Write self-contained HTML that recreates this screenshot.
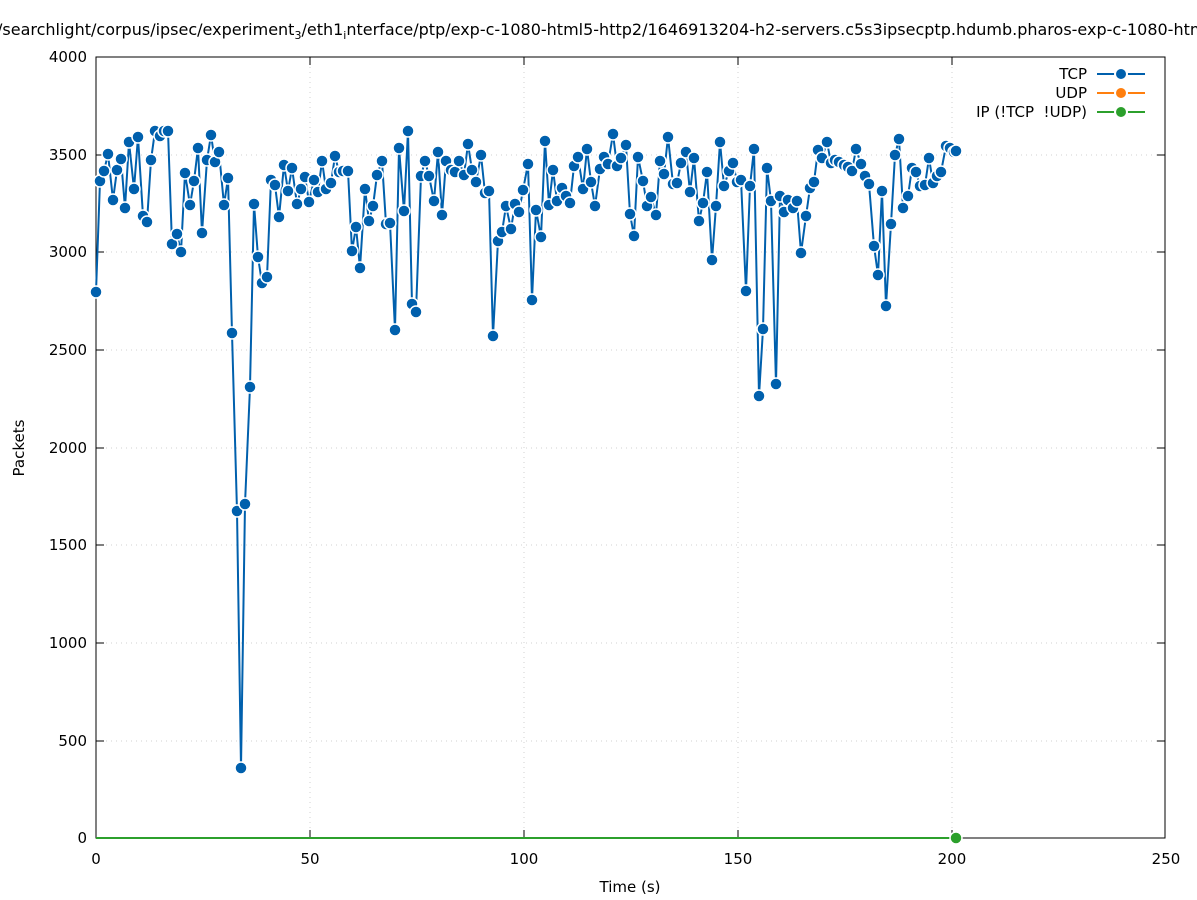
<!DOCTYPE html>
<html><head><meta charset="utf-8"><style>body{margin:0;background:#fff}svg{display:block;font-family:"DejaVu Sans","Liberation Sans",sans-serif}</style></head><body>
<svg width="1197" height="900" viewBox="0 0 1197 900" xmlns="http://www.w3.org/2000/svg">
<rect width="1197" height="900" fill="#fff"/>
<g stroke="#d0d0d0" stroke-dasharray="1,4" stroke-width="1">
<line x1="96" y1="741" x2="1165" y2="741"/><line x1="96" y1="643" x2="1165" y2="643"/><line x1="96" y1="545" x2="1165" y2="545"/><line x1="96" y1="448" x2="1165" y2="448"/><line x1="96" y1="350" x2="1165" y2="350"/><line x1="96" y1="252" x2="1165" y2="252"/><line x1="96" y1="155" x2="1165" y2="155"/>
<line x1="310" y1="57" x2="310" y2="838"/><line x1="524" y1="57" x2="524" y2="838"/><line x1="738" y1="57" x2="738" y2="838"/><line x1="952" y1="57" x2="952" y2="838"/>
</g>
<rect x="96" y="57" width="1069" height="781" fill="none" stroke="#000" stroke-width="1"/>
<g stroke="#000">
<line x1="96" y1="741" x2="104" y2="741"/><line x1="96" y1="643" x2="104" y2="643"/><line x1="96" y1="545" x2="104" y2="545"/><line x1="96" y1="448" x2="104" y2="448"/><line x1="96" y1="350" x2="104" y2="350"/><line x1="96" y1="252" x2="104" y2="252"/><line x1="96" y1="155" x2="104" y2="155"/>
<line x1="1157" y1="741" x2="1165" y2="741"/><line x1="1157" y1="643" x2="1165" y2="643"/><line x1="1157" y1="545" x2="1165" y2="545"/><line x1="1157" y1="448" x2="1165" y2="448"/><line x1="1157" y1="350" x2="1165" y2="350"/><line x1="1157" y1="252" x2="1165" y2="252"/><line x1="1157" y1="155" x2="1165" y2="155"/>
<line x1="310" y1="838" x2="310" y2="830"/><line x1="524" y1="838" x2="524" y2="830"/><line x1="738" y1="838" x2="738" y2="830"/><line x1="952" y1="838" x2="952" y2="830"/>
<line x1="310" y1="57" x2="310" y2="65"/><line x1="524" y1="57" x2="524" y2="65"/><line x1="738" y1="57" x2="738" y2="65"/><line x1="952" y1="57" x2="952" y2="65"/>
</g>
<g font-size="15" fill="#000" text-anchor="end">
<text x="87" y="843">0</text><text x="87" y="746">500</text><text x="87" y="648">1000</text><text x="87" y="550">1500</text><text x="87" y="453">2000</text><text x="87" y="355">2500</text><text x="87" y="257">3000</text><text x="87" y="160">3500</text><text x="87" y="62">4000</text>
</g>
<g font-size="15" fill="#000" text-anchor="middle">
<text x="96" y="864">0</text><text x="310" y="864">50</text><text x="524" y="864">100</text><text x="738" y="864">150</text><text x="952" y="864">200</text><text x="1166" y="864">250</text>
<text x="630" y="892">Time (s)</text>
<text transform="translate(24,448) rotate(-90)">Packets</text>
</g>
<text x="-3" y="35" font-size="16" fill="#000">/searchlight/corpus/ipsec/experiment<tspan font-size="11" dy="4">3</tspan><tspan dy="-4">/eth1</tspan><tspan font-size="11" dy="4">i</tspan><tspan dy="-4">nterface/ptp/exp-c-1080-html5-http2/1646913204-h2-servers.c5s3ipsecptp.hdumb.pharos-exp-c-1080-html5</tspan></text>
<line x1="96" y1="838" x2="956" y2="838" stroke="#2ca02c" stroke-width="2"/>
<circle cx="956" cy="838" r="6" fill="#2ca02c" stroke="#fff" stroke-width="1.5"/>
<g id="tcp"></g>
<g font-size="15" fill="#000" text-anchor="end">
<text x="1087" y="79">TCP</text><text x="1087" y="98">UDP</text><text x="1087" y="117">IP (!TCP &#160;!UDP)</text>
</g>
<g stroke-width="2">
<line x1="1097" y1="74" x2="1145" y2="74" stroke="#0060ad"/>
<line x1="1097" y1="93" x2="1145" y2="93" stroke="#ff7f0e"/>
<line x1="1097" y1="112" x2="1145" y2="112" stroke="#2ca02c"/>
</g>
<circle cx="1121" cy="74" r="6" fill="#0060ad" stroke="#fff" stroke-width="2"/>
<circle cx="1121" cy="93" r="6" fill="#ff7f0e" stroke="#fff" stroke-width="2"/>
<circle cx="1121" cy="112" r="6" fill="#2ca02c" stroke="#fff" stroke-width="2"/>
<script>
var p=[[96,292],[100,181],[104,171],[108,154],[113,200],[117,170],[121,159],[125,208],[129,142],[134,189],[138,137],[143,216],[147,222],[151,160],[155,131],[160,136],[164,131],[168,131],[172,244],[177,234],[181,252],[185,173],[190,205],[194,181],[198,148],[202,233],[207,160],[211,135],[215,162],[219,152],[224,205],[228,178],[232,333],[237,511],[241,768],[245,504],[250,387],[254,204],[258,257],[262,283],[267,277],[271,180],[275,185],[279,217],[284,165],[288,191],[292,168],[297,204],[301,189],[305,177],[309,202],[314,180],[318,192],[322,161],[326,189],[331,183],[335,156],[339,172],[343,171],[348,171],[352,251],[356,227],[360,268],[365,189],[369,221],[373,206],[377,175],[382,161],[386,224],[390,223],[395,330],[399,148],[404,211],[408,131],[412,304],[416,312],[421,176],[425,161],[429,176],[434,201],[438,152],[442,215],[446,161],[451,170],[455,172],[459,161],[464,175],[468,144],[472,170],[476,182],[481,155],[485,193],[489,191],[493,336],[498,241],[502,232],[506,206],[511,229],[515,204],[519,212],[523,190],[528,164],[532,300],[536,210],[541,237],[545,141],[549,205],[553,170],[557,201],[562,188],[566,196],[570,203],[574,166],[578,157],[583,189],[587,149],[591,182],[595,206],[600,169],[604,157],[608,164],[613,134],[617,166],[621,158],[626,145],[630,214],[634,236],[638,157],[643,181],[647,206],[651,197],[656,215],[660,161],[664,174],[668,137],[673,184],[677,183],[681,163],[686,152],[690,192],[694,158],[699,221],[703,203],[707,172],[712,260],[716,206],[720,142],[724,186],[729,171],[733,163],[737,182],[741,180],[746,291],[750,186],[754,149],[759,396],[763,329],[767,168],[771,201],[776,384],[780,196],[784,212],[788,200],[793,208],[797,201],[801,253],[806,216],[810,188],[814,182],[818,150],[822,158],[827,142],[831,163],[835,160],[839,162],[844,165],[848,167],[852,171],[856,149],[861,164],[865,176],[869,184],[874,246],[878,275],[882,191],[886,306],[891,224],[895,155],[899,139],[903,208],[908,196],[912,168],[916,172],[920,186],[925,185],[929,158],[933,183],[937,176],[941,172],[946,146],[950,148],[954,152],[956,151]];
var ns="http://www.w3.org/2000/svg",g=document.getElementById("tcp");
var pl=document.createElementNS(ns,"polyline");pl.setAttribute("points",p.map(function(a){return a.join(",")}).join(" "));
pl.setAttribute("fill","none");pl.setAttribute("stroke","#0060ad");pl.setAttribute("stroke-width","2");g.appendChild(pl);
p.forEach(function(a){var c=document.createElementNS(ns,"circle");c.setAttribute("cx",a[0]);c.setAttribute("cy",a[1]);c.setAttribute("r","6");c.setAttribute("fill","#0060ad");c.setAttribute("stroke","#fff");c.setAttribute("stroke-width","1.5");g.appendChild(c);});
</script>
</svg>
</body></html>
